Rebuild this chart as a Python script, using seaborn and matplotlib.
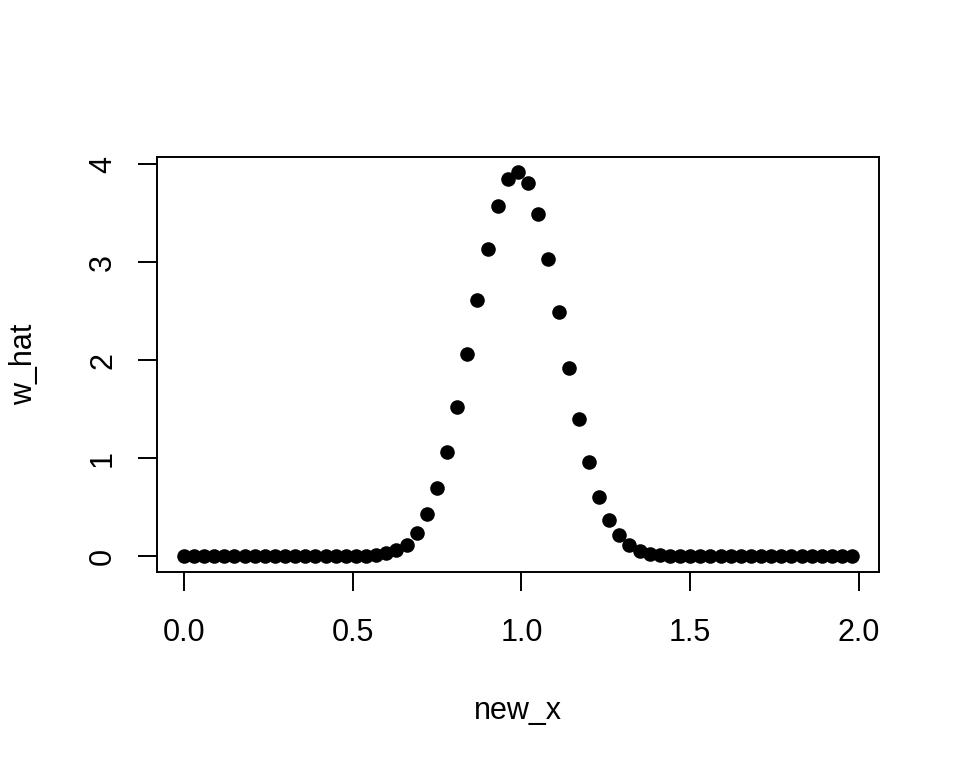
import numpy as np
import pandas as pd
import seaborn as sns
import matplotlib
matplotlib.use("Agg")
import matplotlib.pyplot as plt

# values
new_x = [0.00, 0.03, 0.06, 0.09, 0.12, 0.15, 0.18, 0.21, 0.24, 0.27,
         0.30, 0.33, 0.36, 0.39, 0.42, 0.45, 0.48, 0.51, 0.54, 0.57,
         0.60, 0.63, 0.66, 0.69, 0.72, 0.75, 0.78, 0.81, 0.84, 0.87,
         0.90, 0.93, 0.96, 0.99, 1.02, 1.05, 1.08, 1.11, 1.14, 1.17,
         1.20, 1.23, 1.26, 1.29, 1.32, 1.35, 1.38, 1.41, 1.44, 1.47,
         1.50, 1.53, 1.56, 1.59, 1.62, 1.65, 1.68, 1.71, 1.74, 1.77,
         1.80, 1.83, 1.86, 1.89, 1.92, 1.95, 1.98]
w_hat = [0, 0, 0, 0, 0, 0, 0, 0, 0, 0,
         0, 0, 0, 0, 0, 0, 0, 0.001, 0.005, 0.012,
         0.03, 0.06, 0.12, 0.24, 0.43, 0.70, 1.06, 1.52, 2.06, 2.61,
         3.14, 3.57, 3.85, 3.92, 3.81, 3.49, 3.03, 2.49, 1.92, 1.40,
         0.96, 0.61, 0.37, 0.22, 0.12, 0.055, 0.025, 0.01, 0.004, 0.001,
         0, 0, 0, 0, 0, 0, 0, 0, 0, 0,
         0, 0, 0, 0, 0, 0, 0]
x_ticks = [0.0, 0.5, 1.0, 1.5, 2.0]
x_ticklabels = ["0.0", "0.5", "1.0", "1.5", "2.0"]
y_ticks = [0, 1, 2, 3, 4]
y_ticklabels = ["0", "1", "2", "3", "4"]

df = pd.DataFrame({"new_x": new_x, "w_hat": w_hat})

sns.set_style("ticks")
plt.rcParams["font.family"] = ["Liberation Sans", "DejaVu Sans"]
plt.rcParams["text.color"] = "black"

fig = plt.figure(figsize=(9.6, 7.68), dpi=100)
ax = fig.add_axes([157 / 960, 1 - 571.7 / 768, 722 / 960, 415 / 768])

# filled circles like R's pch=16
sns.scatterplot(data=df, x="new_x", y="w_hat", color="black", s=110,
                linewidth=0, ax=ax, zorder=3)

ax.set_xlim(-0.0792, 2.0592)
ax.set_ylim(-0.157, 4.077)
ax.set_xticks(x_ticks)
ax.set_xticklabels(x_ticklabels, fontsize=22)
ax.set_yticks(y_ticks)
ax.set_yticklabels(y_ticklabels, fontsize=22, rotation=90, va="center")

ax.tick_params(axis="both", length=14, width=1.4, color="black", labelcolor="black")
ax.tick_params(axis="x", pad=19)
ax.tick_params(axis="y", pad=14)
for sp in ax.spines.values():
    sp.set_visible(True)
    sp.set_linewidth(1.4)
    sp.set_color("black")

ax.set_xlabel("new_x", fontsize=22, color="black")
ax.set_ylabel("w_hat", fontsize=22, color="black")
ax.xaxis.set_label_coords(0.5, -0.30)
ax.yaxis.set_label_coords(-0.163, 0.5)

fig.savefig("out.png", dpi=100, facecolor="white")
